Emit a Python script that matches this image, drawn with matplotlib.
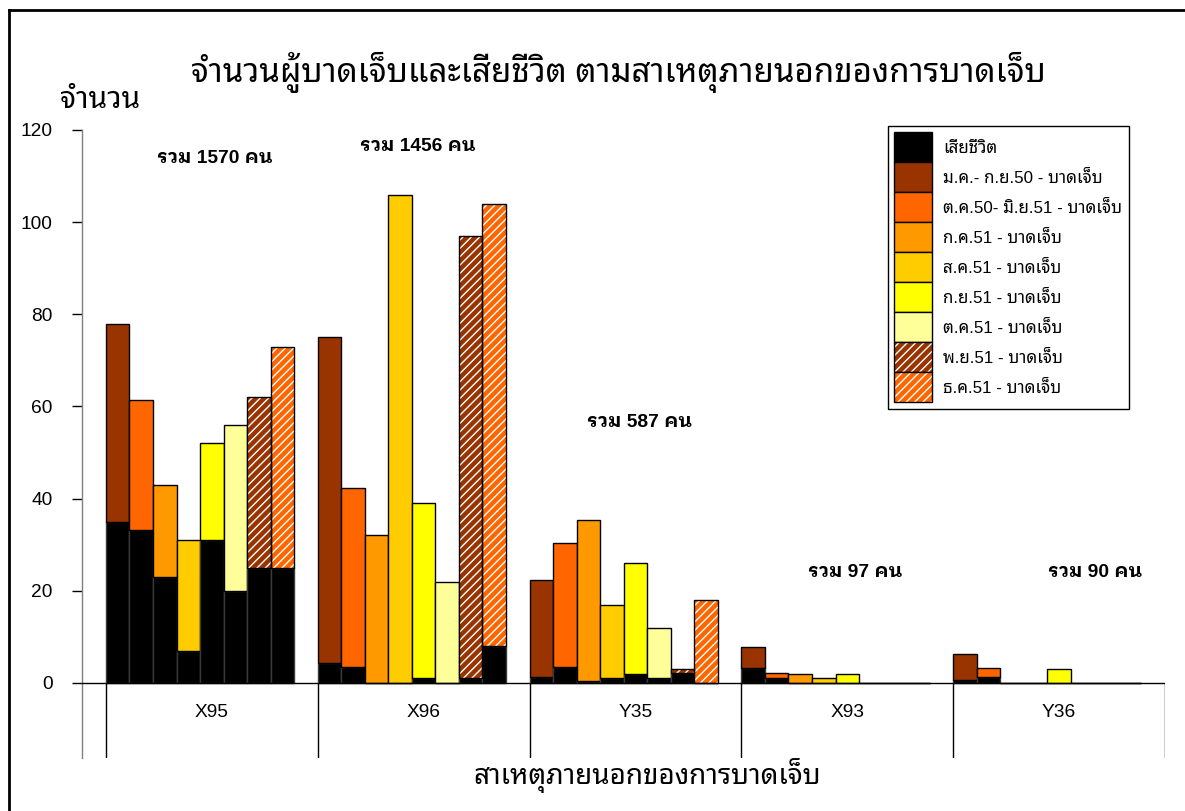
import matplotlib
matplotlib.use("Agg")
import matplotlib.pyplot as plt
from matplotlib.patches import Patch
from matplotlib.lines import Line2D
from matplotlib.legend_handler import HandlerTuple
import numpy as np

plt.rcParams['font.family'] = ['Liberation Sans', 'Noto Sans Thai Looped']
plt.rcParams['hatch.linewidth'] = 1.0

# ---------------- data ----------------
categories = ['X95', 'X96', 'Y35', 'X93', 'Y36']
death_label = 'เสียชีวิต'
series_labels = ['ม.ค.- ก.ย.50 - บาดเจ็บ', 'ต.ค.50- มิ.ย.51 - บาดเจ็บ', 'ก.ค.51 - บาดเจ็บ',
                 'ส.ค.51 - บาดเจ็บ', 'ก.ย.51 - บาดเจ็บ', 'ต.ค.51 - บาดเจ็บ',
                 'พ.ย.51 - บาดเจ็บ', 'ธ.ค.51 - บาดเจ็บ']
# deaths per period (rows) for each category (columns)
deaths = [
    [35.0, 4.3, 1.2, 3.2, 0.6],
    [33.2, 3.5, 3.5, 1.1, 1.2],
    [23.0, 0.0, 0.4, 0.0, 0.0],
    [7.0, 0.0, 1.0, 0.0, 0.0],
    [31.0, 1.0, 2.0, 0.0, 0.0],
    [20.0, 0.0, 1.0, 0.0, 0.0],
    [25.0, 1.0, 2.1, 0.0, 0.0],
    [25.0, 7.9, 0.0, 0.0, 0.0],
]
# injured per period (rows) for each category (columns)
injured = [
    [43.0, 70.7, 21.2, 4.6, 5.6],
    [28.3, 38.8, 26.8, 1.1, 2.1],
    [20.0, 32.0, 35.0, 1.9, 0.0],
    [24.0, 106.0, 16.0, 1.0, 0.0],
    [21.0, 38.0, 24.0, 1.9, 3.0],
    [36.0, 22.0, 11.0, 0.0, 0.0],
    [37.0, 96.0, 0.9, 0.0, 0.0],
    [48.0, 96.1, 18.0, 0.0, 0.0],
]
total_labels = ['รวม 1570 คน', 'รวม 1456 คน', 'รวม 587 คน', 'รวม 97 คน', 'รวม 90 คน']
total_label_pos = [(0.515, 113.9), (1.473, 116.5), (2.521, 56.6), (3.536, 23.9), (4.669, 23.9)]
yticks = [0, 20, 40, 60, 80, 100, 120]

colors = ['#993300', '#FF6600', '#FF9900', '#FFCC00', '#FFFF00', '#FFFF99', '#993300', '#FF6600']
hatched = [False, False, False, False, False, False, True, True]

title = 'จำนวนผู้บาดเจ็บและเสียชีวิต ตามสาเหตุภายนอกของการบาดเจ็บ'
ylabel = 'จำนวน'
xlabel = 'สาเหตุภายนอกของการบาดเจ็บ'

THAI = ['Noto Sans Thai Looped', 'Liberation Sans']
MIX = ['Liberation Sans', 'Noto Sans Thai Looped']
MIXB = ['Liberation Sans', 'IBM Plex Sans Thai Looped', 'Noto Sans Thai Looped']

# ---------------- figure ----------------
W, H = 1185, 811
fig = plt.figure(figsize=(W / 100, H / 100), dpi=100)
ax = fig.add_axes([82 / W, 1 - 758 / H, (1165 - 82) / W, (758 - 130) / H])

nser = len(series_labels)
bw = 1.0 / (nser + 1)
xbase = np.arange(len(categories), dtype=float)

for k in range(nser):
    x = xbase + k * bw
    d = np.array(deaths[k])
    inj = np.array(injured[k])
    ax.bar(x, d, width=bw, align='edge', color='black', edgecolor='#3a3a3a', linewidth=1.0, zorder=2)
    if hatched[k]:
        ax.bar(x, inj, bottom=d, width=bw, align='edge', color=colors[k], edgecolor='white',
               hatch='////', linewidth=0, zorder=2)
        ax.bar(x, inj, bottom=d, width=bw, align='edge', fill=False, edgecolor='black',
               linewidth=1.0, zorder=3)
    else:
        ax.bar(x, inj, bottom=d, width=bw, align='edge', color=colors[k], edgecolor='black',
               linewidth=1.0, zorder=2)

ymin = -16.3
ax.set_xlim(-0.113, len(categories))
ax.set_ylim(ymin, 120)

for s in ['top', 'right', 'bottom']:
    ax.spines[s].set_visible(False)
ax.spines['left'].set_color('#808080')
ax.spines['left'].set_linewidth(1.0)

ax.set_yticks(yticks)
ax.set_yticklabels([str(v) for v in yticks], fontsize=13.8)
ax.tick_params(axis='y', length=7, width=1, color='black', pad=14, direction='out')
ax.set_xticks([])

# zero line and category table lines
ax.axhline(0, color='black', linewidth=1.0, zorder=4)
ax.vlines(np.arange(len(categories) + 1), ymin, 0, color='black', linewidth=1.0)
for i, c in enumerate(categories):
    ax.text(i + 0.5, -6.5, c, ha='center', va='center', fontsize=13.8)

for lab, (tx, ty) in zip(total_labels, total_label_pos):
    ax.text(tx, ty, lab, ha='center', va='center', fontsize=13.8, fontweight='bold', family=MIXB)

# texts
fig.text(618 / W, 1 - 72 / H, title, ha='center', va='center', fontsize=23.8, family=THAI)
fig.text(60 / W, 1 - 100 / H, ylabel, ha='left', va='center', fontsize=21.5, family=THAI)
fig.text(647 / W, 1 - 775 / H, xlabel, ha='center', va='center', fontsize=20, family=THAI)

# legend
handles = [Patch(facecolor='black', edgecolor='black', linewidth=1.0)]
for k in range(nser):
    if hatched[k]:
        handles.append((Patch(facecolor=colors[k], edgecolor='white', hatch='////', linewidth=0),
                        Patch(fill=False, edgecolor='black', linewidth=1.0)))
    else:
        handles.append(Patch(facecolor=colors[k], edgecolor='black', linewidth=1.0))
labels = [death_label] + series_labels
fs = 12.2
row_pt = 30 * 0.72
hh = (row_pt / fs - 0.245) / 0.65
leg = fig.legend(handles, labels, loc='upper left', bbox_to_anchor=(888 / W, 1 - 126 / H),
                 frameon=True, fancybox=False, framealpha=1, edgecolor='black',
                 handlelength=38 * 0.72 / fs, handleheight=hh,
                 labelspacing=0, handletextpad=0.65, borderpad=0.38, borderaxespad=0,
                 handler_map={tuple: HandlerTuple(ndivide=1, pad=0)},
                 prop={'family': MIX, 'size': fs})
leg.get_frame().set_linewidth(1.0)

# outer frame (left and top edges visible)
fig.add_artist(Line2D([9 / W, 9 / W], [0, 1 - 10 / H], color='black', linewidth=2, transform=fig.transFigure))
fig.add_artist(Line2D([9 / W, 1], [1 - 10 / H, 1 - 10 / H], color='black', linewidth=2, transform=fig.transFigure))

fig.savefig("out.png", dpi=100)
